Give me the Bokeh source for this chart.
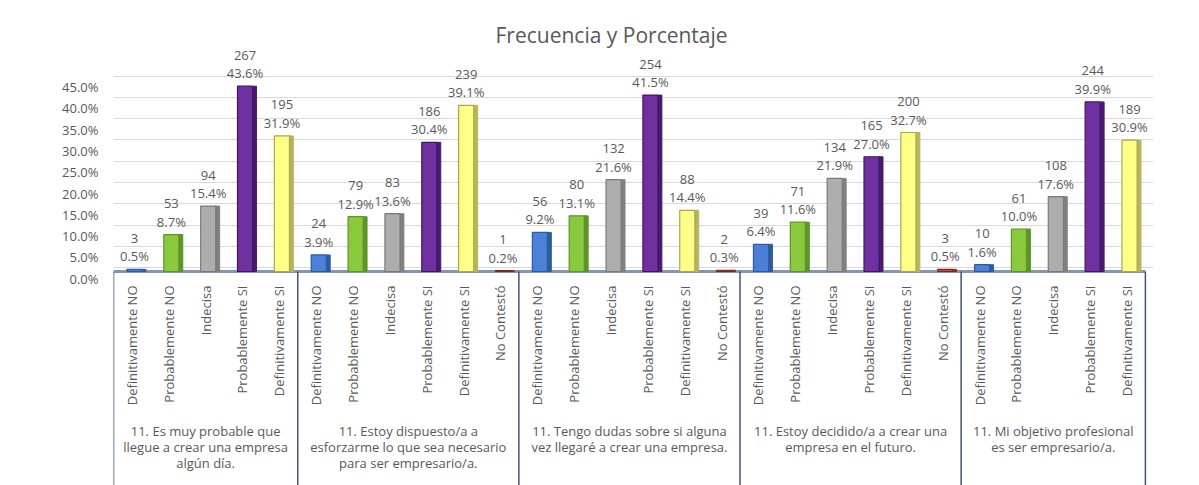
import math
from bokeh.plotting import figure
from bokeh.models import (ColumnDataSource, Range1d, FixedTicker, PrintfTickFormatter,
                          LinearAxis)
from bokeh.core.properties import value
from bokeh.embed import file_html
from bokeh.resources import INLINE

title_text = "Frecuencia y Porcentaje"

groups = [
    "11. Es muy probable que\nllegue a crear una empresa\nalgún día.",
    "11. Estoy dispuesto/a a\nesforzarme lo que sea necesario\npara ser empresario/a.",
    "11. Tengo dudas sobre si alguna\nvez llegaré a crear una empresa.",
    "11. Estoy decidido/a a crear una\nempresa en el futuro.",
    "11. Mi objetivo profesional\nes ser empresario/a.",
]
answers = ["Definitivamente NO", "Probablemente NO", "Indecisa",
           "Probablemente SI", "Definitivamente SI", "No Contestó"]

counts_g1 = [3, 53, 94, 267, 195]
counts_g2 = [24, 79, 83, 186, 239, 1]
counts_g3 = [56, 80, 132, 254, 88, 2]
counts_g4 = [39, 71, 134, 165, 200, 3]
counts_g5 = [10, 61, 108, 244, 189]

pcts_g1 = [0.5, 8.7, 15.4, 43.6, 31.9]
pcts_g2 = [3.9, 12.9, 13.6, 30.4, 39.1, 0.2]
pcts_g3 = [9.2, 13.1, 21.6, 41.5, 14.4, 0.3]
pcts_g4 = [6.4, 11.6, 21.9, 27.0, 32.7, 0.5]
pcts_g5 = [1.6, 10.0, 17.6, 39.9, 30.9]

y_ticks = [0, 5, 10, 15, 20, 25, 30, 35, 40, 45]

front_colors = ["#4A80D6", "#8AC83E", "#ADADAD", "#7030A0", "#FFFF88", "#C0504D"]
side_colors = ["#2D5C9E", "#5E9428", "#808080", "#4A1A70", "#B5B55C", "#8A2C2A"]
edge_colors = ["#2D5C9E", "#5E9428", "#7A7A7A", "#3F1560", "#A8A850", "#7A2522"]

all_counts = [counts_g1, counts_g2, counts_g3, counts_g4, counts_g5]
all_pcts = [pcts_g1, pcts_g2, pcts_g3, pcts_g4, pcts_g5]

xc, pv, cv, names, fc, sc, ec = [], [], [], [], [], [], []
bounds = [0]
gcent = []
slot = 0
for cnts, pcs in zip(all_counts, all_pcts):
    start = slot
    for j, (c, pc) in enumerate(zip(cnts, pcs)):
        xc.append(slot + 0.5)
        pv.append(pc)
        cv.append(str(c))
        names.append(answers[j])
        fc.append(front_colors[j])
        sc.append(side_colors[j])
        ec.append(edge_colors[j])
        slot += 1
    bounds.append(slot)
    gcent.append((start + slot) / 2)

src = ColumnDataSource(dict(
    x=xc,
    xf=[v + 0.07 for v in xc],
    xs=[v + 0.325 for v in xc],
    top=pv,
    pct=[f"{v:.1f}%" for v in pv],
    cnt=cv,
    name=names,
    fc=fc, sc=sc, ec=ec,
))

FONT = "Open Sans"
GRAY = "#595959"
Y_MIN, Y_MAX = -50.35, 52.94
PX_PER_UNIT = 4.25
LABEL_SHIFT = 7 / PX_PER_UNIT     # tick labels sit a little lower (3D floor)
GRID_SHIFT = -4 / PX_PER_UNIT     # back-wall gridlines sit a little higher

p = figure(width=1199, height=485, output_backend="svg", toolbar_location=None,
           x_range=Range1d(0, 28.22), y_range=Range1d(Y_MIN, Y_MAX),
           min_border_left=113, min_border_right=46, min_border_top=46,
           min_border_bottom=0)
p.outline_line_color = None
p.background_fill_color = "white"
p.border_fill_color = "white"

p.extra_y_ranges = {
    "lab": Range1d(Y_MIN + LABEL_SHIFT, Y_MAX + LABEL_SHIFT),
    "grid": Range1d(Y_MIN + GRID_SHIFT, Y_MAX + GRID_SHIFT),
}

p.title.text = title_text
p.title.align = "left"
p.title.offset = 382
p.title.standoff = -4
p.title.text_font = FONT
p.title.text_font_size = "21px"
p.title.text_font_style = "normal"
p.title.text_color = GRAY

p.xaxis.visible = False
p.xgrid.visible = False
p.yaxis.visible = False

ticker = FixedTicker(ticks=y_ticks)
p.ygrid.ticker = ticker
p.ygrid.y_range_name = "grid"
p.ygrid.grid_line_color = "#D9D9D9"

yax = LinearAxis(y_range_name="lab", ticker=ticker,
                 formatter=PrintfTickFormatter(format="%.1f%%"))
yax.axis_line_color = None
yax.major_tick_line_color = None
yax.minor_tick_line_color = None
yax.major_tick_out = 0
yax.major_label_standoff = 15
yax.major_label_text_font = FONT
yax.major_label_text_font_size = "13px"
yax.major_label_text_color = GRAY
p.add_layout(yax, "left")

# floor / axis line
p.segment(x0=[bounds[0]], x1=[bounds[-1]], y0=[0], y1=[0],
          line_color="#8497B0", line_width=3)

# bars (side face + front face)
p.vbar(x="xs", width=0.11, top="top", bottom=0, source=src,
       fill_color="sc", line_color="sc", line_width=1)
p.vbar(x="xf", width=0.41, top="top", bottom=0, source=src,
       fill_color="fc", line_color="ec", line_width=1.2)

# value labels
p.text(x="xf", y="top", text="pct", source=src, y_offset=-13,
       text_align="center", text_baseline="middle",
       text_font=value(FONT), text_font_size="13px", text_color=GRAY)
p.text(x="xf", y="top", text="cnt", source=src, y_offset=-31,
       text_align="center", text_baseline="middle",
       text_font=value(FONT), text_font_size="13px", text_color=GRAY)

# category labels (vertical)
p.text(x="x", y=0, text="name", source=src, angle=math.pi / 2,
       y_offset=14, text_align="right", text_baseline="middle",
       text_font=value(FONT), text_font_size="13px", text_color=GRAY)

# group separators
p.segment(x0=bounds, x1=bounds, y0=[0] * len(bounds), y1=[Y_MIN] * len(bounds),
          line_color="#44546A", line_width=1.5)

# group labels
p.text(x=gcent, y=[0] * len(gcent), text=groups, y_offset=150,
       text_align="center", text_baseline="top", text_line_height=0.9,
       text_font=value(FONT), text_font_size="13px", text_color=GRAY)

p.styles = {"outline": "1px solid #D9D9D9", "outline-offset": "-2px"}

open("out.html", "w").write(file_html(p, INLINE))
